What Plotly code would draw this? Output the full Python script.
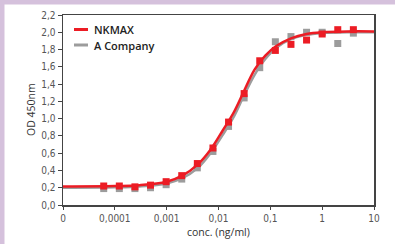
import plotly.graph_objects as go

# Dilution series (ng/ml)
conc = [4, 2, 1, 0.5, 0.25, 0.125, 0.0625, 0.03125, 0.015625, 0.0078125,
        0.00390625, 0.001953125, 0.0009765625, 0.00048828125, 0.000244140625,
        0.0001220703125, 0.00006103515625]

nkmax_od = [2.03, 2.03, 1.98, 1.91, 1.86, 1.79, 1.67, 1.29, 0.96, 0.66,
            0.48, 0.34, 0.27, 0.23, 0.21, 0.22, 0.22]
acomp_od = [1.99, 1.87, 2.00, 2.00, 1.95, 1.89, 1.59, 1.24, 0.91, 0.62,
            0.43, 0.30, 0.235, 0.20, 0.19, 0.19, 0.19]

# Fitted curves
curve_x = [1e-5, 1e-4, 3e-4, 1e-3, 2e-3, 4e-3, 7e-3, 0.012, 0.02, 0.03,
           0.05, 0.08, 0.13, 0.25, 0.5, 1, 3, 10]
nkmax_curve = [0.215, 0.22, 0.23, 0.27, 0.34, 0.47, 0.64, 0.86, 1.08, 1.30,
               1.57, 1.73, 1.84, 1.93, 1.98, 2.0, 2.01, 2.01]
acomp_curve = [0.20, 0.205, 0.215, 0.25, 0.31, 0.43, 0.60, 0.81, 1.03, 1.25,
               1.51, 1.69, 1.82, 1.92, 1.97, 1.99, 2.0, 2.0]

x_tickvals = [1e-5, 1e-4, 1e-3, 1e-2, 1e-1, 1, 10]
x_ticktext = ["0", "0,0001", "0,001", "0,01", "0,1", "1", "10"]
y_tickvals = [0.0, 0.2, 0.4, 0.6, 0.8, 1.0, 1.2, 1.4, 1.6, 1.8, 2.0, 2.2]
y_ticktext = ["0,0", "0,2", "0,4", "0,6", "0,8", "1,0", "1,2", "1,4", "1,6", "1,8", "2,0", "2,2"]

series_names = ["NKMAX", "A Company"]
x_title = "conc. (ng/ml)"
y_title = "OD 450nm"
RED = "#ec1c24"
GRAY = "#9c9c9c"

fig = go.Figure()
fig.add_trace(go.Scatter(x=curve_x, y=acomp_curve, mode="lines", line=dict(color=GRAY, width=2.5, shape="spline"),
                         name=series_names[1], showlegend=False, hoverinfo="skip"))
fig.add_trace(go.Scatter(x=conc, y=acomp_od, mode="markers", marker=dict(symbol="square", size=7, color=GRAY),
                         name=series_names[1], showlegend=False))
fig.add_trace(go.Scatter(x=curve_x, y=nkmax_curve, mode="lines", line=dict(color=RED, width=2.5, shape="spline"),
                         name=series_names[0], showlegend=False, hoverinfo="skip"))
fig.add_trace(go.Scatter(x=conc, y=nkmax_od, mode="markers", marker=dict(symbol="square", size=7, color=RED),
                         name=series_names[0], showlegend=False))

W, H = 395, 244
L, R, T, B = 63, 21, 15, 39
pw, ph = W - L - R, H - T - B

def px(x):
    return (x - L) / pw

def py(y):
    return (H - B - y) / ph

tick_font = dict(family="Liberation Sans Narrow, DejaVu Sans Condensed, Arial Narrow, sans-serif", size=10, color="#555555")
title_font = dict(family="Open Sans, sans-serif", size=10.5, color="#333333")

shapes = [
    dict(type="rect", xref="paper", yref="paper", x0=px(0), x1=px(W), y0=py(0), y1=py(4.5),
         fillcolor="#d5c1dc", line=dict(width=0), layer="below"),
    dict(type="rect", xref="paper", yref="paper", x0=px(0), x1=px(4.5), y0=py(0), y1=py(H),
         fillcolor="#d5c1dc", line=dict(width=0), layer="below"),
]
annotations = [
    dict(xref="paper", yref="paper", x=px(218), y=py(232), text=x_title, showarrow=False,
         xanchor="center", yanchor="middle", font=title_font),
    dict(xref="paper", yref="paper", x=px(31), y=py(110), text=y_title, showarrow=False, textangle=-90,
         xanchor="center", yanchor="middle", font=title_font),
]
legend_y = [29.5, 45]
legend_colors = [RED, GRAY]
for name, yy, col in zip(series_names, legend_y, legend_colors):
    shapes.append(dict(type="line", xref="paper", yref="paper", x0=px(74), x1=px(88), y0=py(yy), y1=py(yy),
                       line=dict(color=col, width=3)))
    annotations.append(dict(xref="paper", yref="paper", x=px(92), y=py(yy), text=name, showarrow=False,
                            xanchor="left", yanchor="middle",
                            font=dict(family="Open Sans, sans-serif", size=11, color="#222222", weight=600)))

fig.update_layout(
    width=W, height=H,
    margin=dict(l=L, r=R, t=T, b=B, autoexpand=False),
    paper_bgcolor="white", plot_bgcolor="white",
    showlegend=False,
    shapes=shapes, annotations=annotations,
    xaxis=dict(type="log", range=[-5, 1], tickvals=x_tickvals, ticktext=x_ticktext, automargin=False,
               showgrid=False, zeroline=False, showline=True, linecolor="#444444", linewidth=1.5,
               mirror=True, ticks="outside", ticklen=3, tickcolor="#444444", tickfont=tick_font),
    yaxis=dict(range=[0, 2.2], tickvals=y_tickvals, ticktext=y_ticktext, automargin=False,
               showgrid=False, zeroline=False, showline=True, linecolor="#444444", linewidth=1.5,
               mirror=True, ticks="outside", ticklen=4, tickcolor="#444444", tickfont=tick_font),
)

fig.write_html("out.html", config={"displayModeBar": False, "staticPlot": True},
               post_script="document.body.style.margin='0px';document.body.style.overflow='hidden';")
